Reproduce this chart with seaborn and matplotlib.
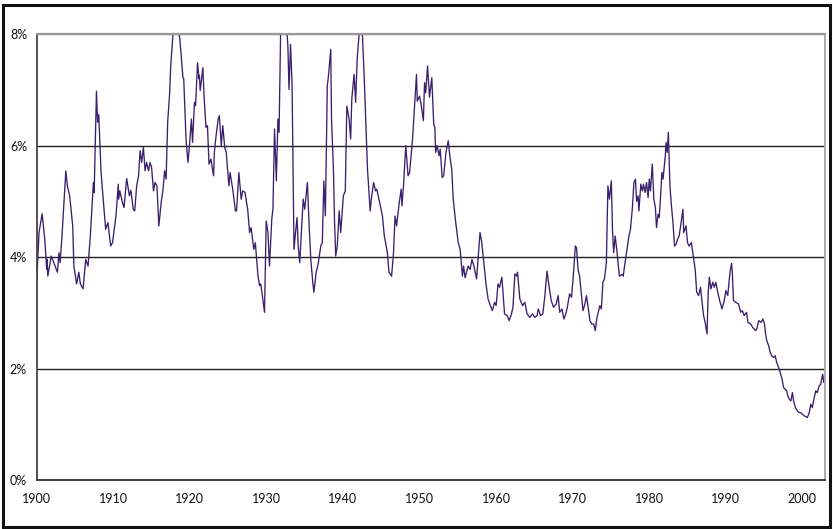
import numpy as np
import pandas as pd
import matplotlib
matplotlib.use("Agg")
import matplotlib.pyplot as plt
import seaborn as sns
from matplotlib.patches import Rectangle

# dividend yield (%), irregular time points
years = [
    1900.0, 1900.3, 1900.7, 1901.05, 1901.3, 1901.35, 1901.45, 1901.9, 1902.4, 1902.7,
    1902.9, 1903.05, 1903.3, 1903.8, 1904.0, 1904.3, 1904.7, 1904.85, 1905.2, 1905.5,
    1905.7, 1906.05, 1906.4, 1906.7, 1907.0, 1907.4, 1907.5, 1907.8, 1907.95, 1908.1,
    1908.4, 1908.7, 1909.0, 1909.3, 1909.65, 1909.9,
    1910.35, 1910.65, 1910.7, 1910.85, 1911.2, 1911.4, 1911.75, 1912.1, 1912.3, 1912.6,
    1912.8, 1913.05, 1913.3, 1913.5, 1913.7, 1913.93, 1914.15, 1914.35, 1914.6, 1914.8,
    1915.0, 1915.25, 1915.45, 1915.7, 1915.95, 1916.25, 1916.5, 1916.7, 1916.9, 1917.1,
    1917.35, 1917.5, 1917.8, 1918.0, 1918.3, 1918.6, 1918.7, 1919.1, 1919.2, 1919.5,
    1919.75, 1919.95,
    1920.2, 1920.35, 1920.6, 1920.75, 1921.0, 1921.2, 1921.25, 1921.35, 1921.7, 1921.85,
    1922.1, 1922.3, 1922.5, 1922.75, 1923.1, 1923.2, 1923.4, 1923.7, 1923.85, 1924.1,
    1924.3, 1924.55, 1924.75, 1925.1, 1925.25, 1925.6, 1925.95, 1926.1, 1926.4, 1926.7,
    1926.9, 1927.2, 1927.55, 1927.8, 1928.0, 1928.35, 1928.55, 1928.9, 1929.1, 1929.25,
    1929.35, 1929.75, 1929.97, 1930.2, 1930.4, 1930.7, 1930.85,
    1931.06, 1931.3, 1931.5, 1931.65, 1931.85, 1932.2, 1932.5, 1932.7, 1932.8, 1932.95,
    1933.15, 1933.35, 1933.6, 1933.8, 1934.0, 1934.15, 1934.35, 1934.6, 1934.8, 1935.0,
    1935.35, 1935.6, 1935.8, 1936.05, 1936.2, 1936.5, 1936.75, 1937.1, 1937.3, 1937.5,
    1937.7, 1937.95, 1938.1, 1938.4, 1938.5, 1938.75, 1938.9, 1939.05, 1939.25, 1939.5,
    1939.7,
    1940.05, 1940.3, 1940.5, 1940.8, 1941.0, 1941.15, 1941.45, 1941.65, 1941.85, 1942.1,
    1942.3, 1942.55, 1942.75, 1943.2, 1943.55, 1943.7, 1944.0, 1944.25, 1944.4, 1944.7,
    1945.15, 1945.4, 1945.8, 1946.0, 1946.35, 1946.6, 1946.8, 1947.0, 1947.35, 1947.6,
    1947.7, 1947.9, 1948.2, 1948.5, 1948.7, 1949.1, 1949.3, 1949.6, 1949.7,
    1950.0, 1950.2, 1950.5, 1950.65, 1950.8, 1951.05, 1951.3, 1951.6, 1951.85, 1952.0,
    1952.1, 1952.3, 1952.55, 1952.7, 1952.95, 1953.15, 1953.45, 1953.75, 1953.95, 1954.2,
    1954.4, 1954.7, 1955.05, 1955.3, 1955.6, 1955.75, 1955.95, 1956.35, 1956.6, 1956.85,
    1957.1, 1957.45, 1957.9, 1958.1, 1958.4, 1958.65, 1958.95, 1959.25, 1959.5, 1959.8,
    1960.0, 1960.25, 1960.45, 1960.75, 1960.9, 1961.1, 1961.45, 1961.7, 1962.0, 1962.2,
    1962.45, 1962.65, 1962.8, 1963.1, 1963.45, 1963.75, 1964.05, 1964.4, 1964.75, 1965.05,
    1965.35, 1965.5, 1965.8, 1966.1, 1966.35, 1966.65, 1966.9, 1967.2, 1967.5, 1967.85,
    1968.1, 1968.3, 1968.6, 1968.85, 1969.1, 1969.3, 1969.6, 1969.85,
    1970.05, 1970.35, 1970.5, 1970.7, 1970.9, 1971.15, 1971.35, 1971.6, 1971.8, 1972.05,
    1972.25, 1972.5, 1972.75, 1972.95, 1973.15, 1973.55, 1973.75, 1973.95, 1974.15, 1974.4,
    1974.6, 1974.8, 1975.05, 1975.2, 1975.35, 1975.55, 1975.8, 1976.1, 1976.45, 1976.6,
    1976.9, 1977.1, 1977.35, 1977.55, 1977.8, 1978.0, 1978.2, 1978.35, 1978.55, 1978.65,
    1978.9, 1979.1, 1979.25, 1979.45, 1979.65, 1979.85,
    1980.0, 1980.15, 1980.4, 1980.6, 1980.8, 1980.95, 1981.15, 1981.3, 1981.45, 1981.65,
    1981.8, 1982.1, 1982.2, 1982.35, 1982.5, 1982.7, 1982.9, 1983.1, 1983.3, 1983.5,
    1983.7, 1983.9, 1984.1, 1984.4, 1984.5, 1984.8, 1985.0, 1985.2, 1985.5, 1985.75,
    1986.0, 1986.2, 1986.45, 1986.7, 1986.9, 1987.1, 1987.3, 1987.55, 1987.7, 1987.85,
    1988.05, 1988.3, 1988.5, 1988.7, 1988.9, 1989.2, 1989.5, 1989.8,
    1990.0, 1990.25, 1990.55, 1990.75, 1990.85, 1991.0, 1991.3, 1991.65, 1991.95, 1992.15,
    1992.4, 1992.7, 1992.9, 1993.25, 1993.5, 1993.9, 1994.05, 1994.3, 1994.6, 1994.85,
    1995.05, 1995.2, 1995.35, 1995.6, 1995.8, 1996.0, 1996.25, 1996.45, 1996.65, 1996.9,
    1997.1, 1997.35, 1997.55, 1997.75, 1997.95, 1998.1, 1998.3, 1998.5, 1998.7, 1998.85,
    1999.1, 1999.35, 1999.55, 1999.8,
    2000.0, 2000.25, 2000.45, 2000.65, 2000.9, 2001.1, 2001.3, 2001.5, 2001.75, 2001.95,
    2002.2, 2002.4, 2002.65, 2002.8, 2003.0,
]
yields = [
    3.55, 4.44, 4.78, 4.32, 3.78, 3.96, 3.66, 4.02, 3.84, 3.73,
    4.08, 3.90, 4.38, 5.55, 5.28, 5.10, 4.56, 3.84, 3.52, 3.73,
    3.52, 3.43, 3.96, 3.84, 4.38, 5.34, 5.16, 6.98, 6.42, 6.56,
    5.52, 5.01, 4.50, 4.62, 4.20, 4.26,
    4.74, 5.31, 5.04, 5.19, 4.98, 4.89, 5.41, 5.10, 5.20, 4.86,
    4.83, 5.28, 5.46, 5.91, 5.70, 5.97, 5.55, 5.70, 5.55, 5.70,
    5.61, 5.19, 5.34, 5.28, 4.56, 4.98, 5.22, 5.55, 5.40, 6.42,
    6.92, 7.43, 8.00, 8.40, 8.30, 8.00, 7.90, 7.22, 7.20, 6.12,
    5.70, 6.00,
    6.48, 6.06, 6.78, 6.72, 7.49, 7.20, 7.26, 6.99, 7.40, 6.90,
    6.33, 6.36, 5.67, 5.76, 5.46, 5.88, 6.15, 6.48, 6.54, 6.00,
    6.36, 5.97, 5.88, 5.28, 5.52, 5.22, 4.83, 4.83, 5.52, 5.04,
    5.19, 5.16, 4.86, 4.44, 4.53, 4.14, 4.26, 3.66, 3.49, 3.52,
    3.43, 3.01, 4.65, 4.44, 3.84, 4.68, 4.86,
    6.30, 5.37, 6.48, 6.24, 8.00, 8.80, 8.60, 8.00, 7.80, 7.01,
    7.82, 7.10, 4.14, 4.44, 4.71, 4.20, 3.90, 4.53, 5.04, 4.86,
    5.34, 4.50, 3.96, 3.55, 3.37, 3.73, 3.87, 4.20, 4.26, 5.37,
    4.74, 7.07, 7.25, 7.73, 6.50, 5.58, 4.62, 4.02, 4.20, 4.83,
    4.44,
    5.10, 5.19, 6.71, 6.48, 6.12, 6.84, 7.28, 6.78, 7.55, 8.00,
    8.30, 7.95, 7.31, 5.58, 4.83, 5.04, 5.34, 5.19, 5.22, 5.04,
    4.74, 4.38, 4.08, 3.73, 3.66, 4.08, 4.74, 4.56, 4.98, 5.22,
    4.92, 5.28, 6.00, 5.46, 5.52, 6.15, 6.60, 7.28, 6.80,
    6.89, 6.75, 6.45, 7.13, 6.95, 7.43, 6.87, 7.22, 6.39, 6.33,
    5.88, 6.00, 5.82, 5.94, 5.43, 5.46, 5.88, 6.09, 5.82, 5.58,
    5.04, 4.65, 4.26, 4.14, 3.66, 3.84, 3.63, 3.84, 3.78, 3.96,
    3.84, 3.61, 4.44, 4.29, 3.90, 3.55, 3.25, 3.13, 3.04, 3.19,
    3.13, 3.52, 3.46, 3.64, 3.37, 2.98, 2.95, 2.86, 2.98, 3.10,
    3.70, 3.66, 3.73, 3.25, 3.13, 3.19, 2.98, 2.92, 2.98, 2.92,
    2.95, 3.07, 2.95, 2.98, 3.28, 3.75, 3.49, 3.22, 3.10, 3.16,
    3.31, 3.01, 3.07, 2.89, 2.98, 3.10, 3.34, 3.28,
    3.61, 4.20, 4.17, 3.78, 3.66, 3.31, 3.04, 3.16, 3.31, 3.07,
    2.86, 2.80, 2.80, 2.68, 2.90, 3.13, 3.07, 3.55, 3.61, 3.90,
    5.28, 5.04, 5.37, 4.49, 4.08, 4.38, 4.08, 3.66, 3.69, 3.66,
    3.96, 4.14, 4.38, 4.50, 4.89, 5.34, 5.40, 5.00, 5.10, 4.83,
    5.31, 5.19, 5.31, 5.16, 5.34, 5.07,
    5.40, 5.19, 5.67, 5.04, 4.89, 4.53, 4.77, 4.71, 5.01, 5.52,
    5.40, 5.82, 6.06, 5.88, 6.24, 5.28, 4.92, 4.62, 4.20, 4.23,
    4.32, 4.38, 4.56, 4.86, 4.44, 4.56, 4.26, 4.20, 4.26, 4.02,
    3.78, 3.37, 3.31, 3.46, 3.19, 2.95, 2.83, 2.62, 3.37, 3.64,
    3.43, 3.55, 3.46, 3.55, 3.40, 3.22, 3.07, 3.22,
    3.40, 3.31, 3.73, 3.89, 3.73, 3.22, 3.19, 3.16, 3.01, 3.04,
    2.95, 3.01, 2.83, 2.80, 2.74, 2.68, 2.71, 2.86, 2.83, 2.89,
    2.80, 2.62, 2.50, 2.41, 2.29, 2.23, 2.20, 2.23, 2.11, 2.02,
    1.93, 1.81, 1.66, 1.63, 1.60, 1.51, 1.45, 1.42, 1.57, 1.42,
    1.30, 1.24, 1.21, 1.21,
    1.18, 1.15, 1.14, 1.12, 1.21, 1.36, 1.30, 1.45, 1.60, 1.57,
    1.69, 1.72, 1.90, 1.75, 1.84,
]

x_ticks = list(range(1900, 2005, 5))
x_labels = [str(y) if y % 10 == 0 else "" for y in x_ticks]
y_ticks = [0, 2, 4, 6, 8]
y_labels = ["0%", "2%", "4%", "6%", "8%"]

df = pd.DataFrame({"year": years, "yield": yields})

sns.set_style("white")
plt.rcParams["font.family"] = ["Lato", "DejaVu Sans"]

fig = plt.figure(figsize=(8.33, 5.29), dpi=100)
ax = fig.add_axes([0.0441, 0.0926, 0.9467, 0.8426])

sns.lineplot(data=df, x="year", y="yield", ax=ax, color="#3b1f6b", linewidth=0.95)

ax.set_xlim(1900, 2003)
ax.set_ylim(0, 8)
ax.set_xticks(x_ticks)
ax.set_xticklabels(x_labels)
ax.set_yticks(y_ticks)
ax.set_yticklabels(y_labels)
ax.set_xlabel("")
ax.set_ylabel("")

ax.yaxis.grid(True, color="#222222", linewidth=1.0)
ax.get_ygridlines()[-1].set_color("#999999")
ax.tick_params(axis="both", direction="out", length=4, width=1.0, color="#333333",
               labelsize=9, labelcolor="#111111")
ax.tick_params(axis="x", pad=5)
ax.tick_params(axis="y", pad=3)

for side, col, lw in [("left", "#444444", 1.3), ("bottom", "#333333", 1.3),
                      ("top", "#999999", 1.6), ("right", "#aaaaaa", 1.4)]:
    ax.spines[side].set_visible(True)
    ax.spines[side].set_color(col)
    ax.spines[side].set_linewidth(lw)

fig.patches.append(Rectangle((0.0036, 0.004), 0.9928, 0.987, transform=fig.transFigure,
                             fill=False, edgecolor="#111111", linewidth=2.2))

fig.savefig("out.png", dpi=100)
